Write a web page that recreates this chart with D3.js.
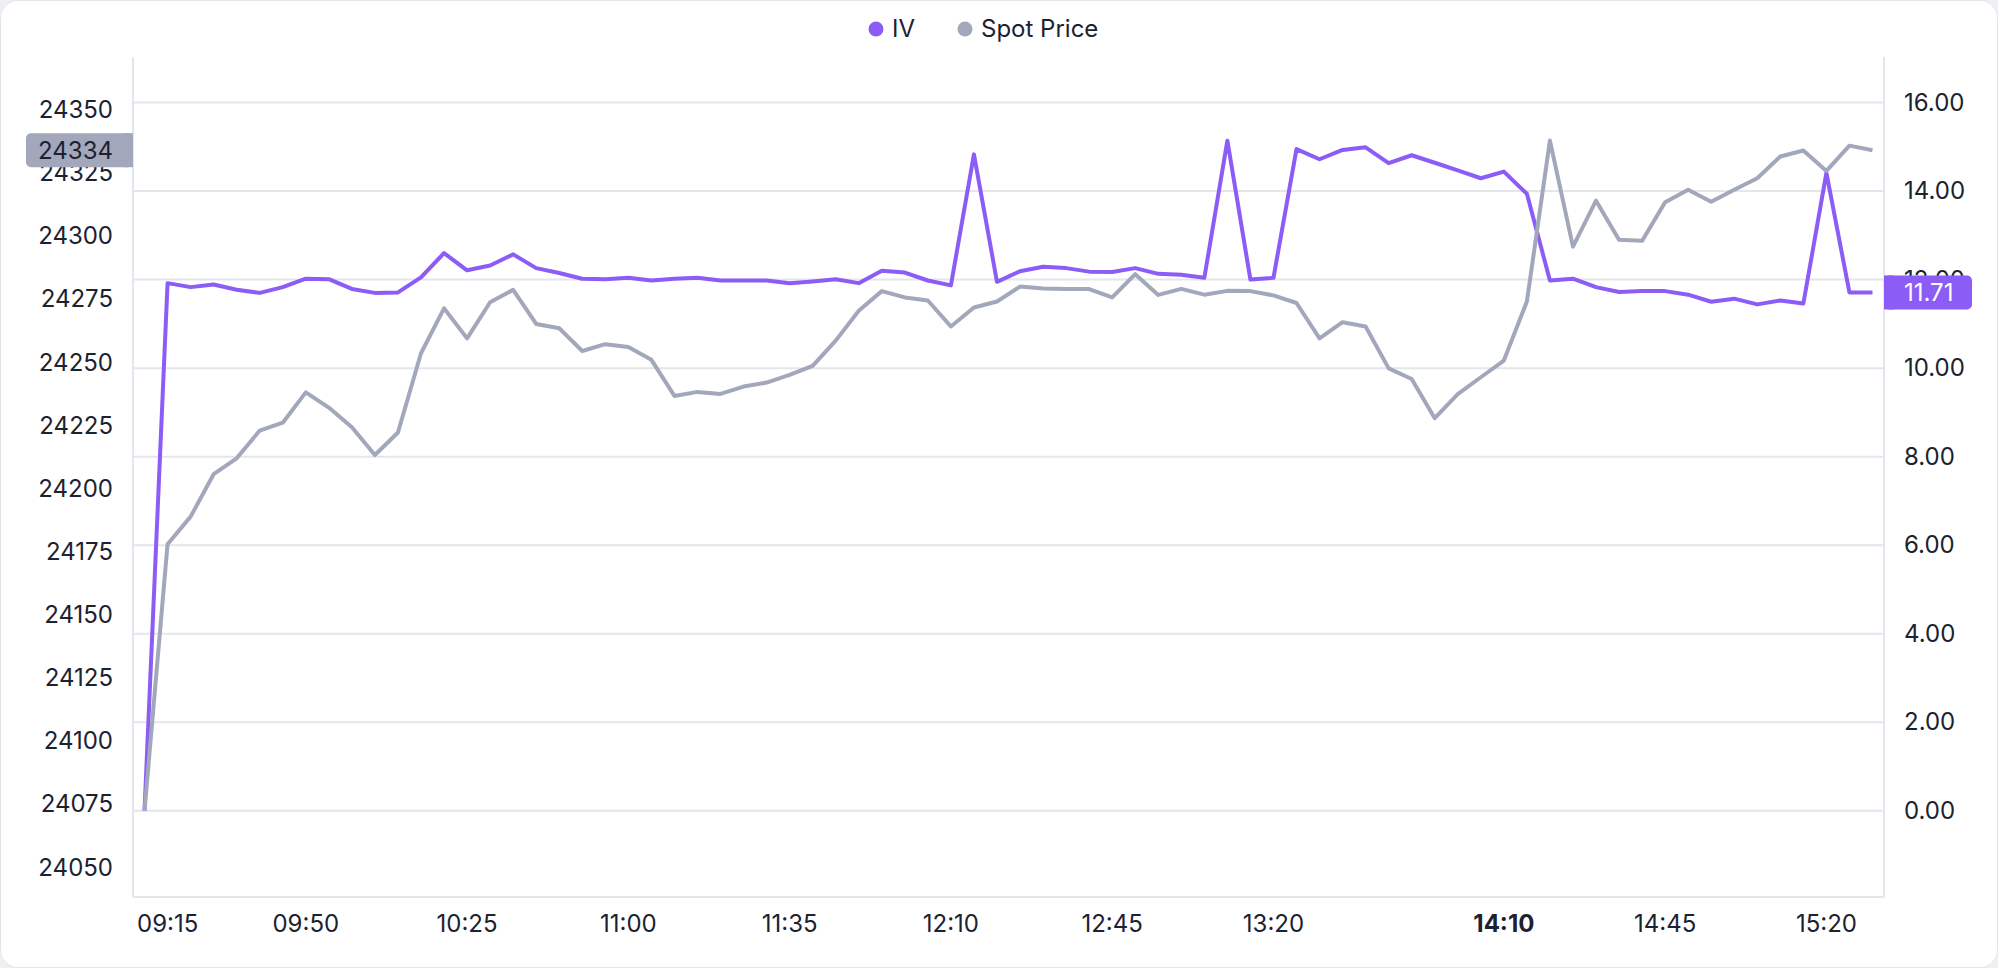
<!DOCTYPE html>
<html>
<head>
<meta charset="utf-8">
<script src="https://cdn.jsdelivr.net/npm/d3@7"></script>
<style>
  html, body { margin: 0; padding: 0; background: #eef0f3; }
  #card {
    position: absolute; left: 0; top: 0; width: 1998px; height: 968px;
    box-sizing: border-box; background: #fff;
    border: 1px solid #e3e5ea; border-radius: 18px;
  }
  #chart { position: absolute; left: 0; top: 0; font-family: Inter, "Noto Sans", sans-serif; }
</style>
</head>
<body>
<div id="card"></div>
<svg id="chart"></svg>
<script>
// 5-minute buckets, 09:15 -> 15:30
const times = [
  "09:15","09:20","09:25","09:30","09:35","09:40","09:45","09:50","09:55","10:00",
  "10:05","10:10","10:15","10:20","10:25","10:30","10:35","10:40","10:45","10:50",
  "10:55","11:00","11:05","11:10","11:15","11:20","11:25","11:30","11:35","11:40",
  "11:45","11:50","11:55","12:00","12:05","12:10","12:15","12:20","12:25","12:30",
  "12:35","12:40","12:45","12:50","12:55","13:00","13:05","13:10","13:15","13:20",
  "13:25","13:30","13:35","13:40","13:45","13:50","13:55","14:00","14:05","14:10",
  "14:15","14:20","14:25","14:30","14:35","14:40","14:45","14:50","14:55","15:00",
  "15:05","15:10","15:15","15:20","15:25","15:30"
]

const ivValues = [
  0.00, 11.92, 11.83, 11.89, 11.77, 11.70, 11.83, 12.02, 12.01, 11.79,
  11.70, 11.71, 12.05, 12.60, 12.21, 12.32, 12.57, 12.26, 12.15, 12.02,
  12.01, 12.04, 11.98, 12.02, 12.04, 11.98, 11.98, 11.98, 11.92, 11.96,
  12.01, 11.92, 12.20, 12.16, 11.98, 11.87, 14.83, 11.95, 12.19, 12.29,
  12.26, 12.18, 12.17, 12.26, 12.13, 12.11, 12.04, 15.14, 12.00, 12.04,
  14.95, 14.72, 14.93, 14.99, 14.63, 14.81, 14.64, 14.47, 14.29, 14.44,
  13.94, 11.98, 12.02, 11.83, 11.72, 11.74, 11.74, 11.66, 11.50, 11.57,
  11.44, 11.53, 11.46, 14.41, 11.71, 11.71
]

const spotValues = [
  24072.5, 24178.0, 24188.9, 24205.7, 24212.0, 24223.0, 24226.1, 24238.1, 24232.1, 24224.3,
  24213.3, 24222.2, 24253.6, 24271.4, 24259.5, 24273.8, 24278.7, 24265.2, 24263.5, 24254.5,
  24257.2, 24256.1, 24251.0, 24236.7, 24238.3, 24237.5, 24240.4, 24242.0, 24245.0, 24248.6,
  24258.6, 24270.4, 24278.2, 24275.7, 24274.5, 24264.2, 24271.7, 24274.1, 24280.0, 24279.2,
  24279.0, 24279.0, 24275.7, 24284.9, 24276.7, 24279.1, 24276.8, 24278.3, 24278.2, 24276.5,
  24273.5, 24259.5, 24265.9, 24264.2, 24247.6, 24243.4, 24227.9, 24237.4, 24244.1, 24250.7,
  24274.1, 24337.8, 24295.8, 24314.0, 24298.5, 24298.1, 24313.4, 24318.3, 24313.6, 24318.3,
  24322.9, 24331.5, 24333.9, 24325.8, 24335.8, 24334.0
]

const leftTicks = [24050, 24075, 24100, 24125, 24150, 24175, 24200, 24225, 24250, 24275, 24300, 24325, 24350]
const rightTicks = [0, 2, 4, 6, 8, 10, 12, 14, 16]
const xTickLabels = ["09:15","09:50","10:25","11:00","11:35","12:10","12:45","13:20","14:10","14:45","15:20"]
const boldTick = "14:10"

const ivColor = "#8b5cf6"
const spotColor = "#a2a7bb"
const textColor = "#1c2230"
const gridColor = "#e3e6ec"

const W = 1998, H = 968
const m = {t: 57, r: 114, b: 71, l: 133}
const plotR = W - m.r, plotB = H - m.b

const svg = d3.select("#chart").attr("width", W).attr("height", H)

const x = d3.scaleBand().domain(times).range([m.l, plotR]).padding(0)
const cx = d => x(d) + x.bandwidth() / 2

const yR = d3.scaleLinear().domain([-1.95, 17.03]).range([plotB, m.t])
const yL = d3.scaleLinear().domain([24038.3, 24370.9]).range([plotB, m.t])

// grid lines (right axis ticks)
svg.append("g")
  .selectAll("line")
  .data(rightTicks)
  .join("line")
  .attr("x1", m.l).attr("x2", plotR)
  .attr("y1", d => yR(d)).attr("y2", d => yR(d))
  .attr("stroke", gridColor).attr("stroke-width", 2)

// axis frame lines
svg.append("line").attr("x1", m.l).attr("x2", m.l).attr("y1", m.t).attr("y2", plotB)
  .attr("stroke", gridColor).attr("stroke-width", 2)
svg.append("line").attr("x1", plotR).attr("x2", plotR).attr("y1", m.t).attr("y2", plotB)
  .attr("stroke", gridColor).attr("stroke-width", 2)
svg.append("line").attr("x1", m.l).attr("x2", plotR).attr("y1", plotB).attr("y2", plotB)
  .attr("stroke", gridColor).attr("stroke-width", 2)

// left axis labels
const leftAxis = svg.append("g")
  .attr("transform", "translate(" + m.l + ",0)")
  .call(d3.axisLeft(yL).tickValues(leftTicks).tickSize(0).tickPadding(20).tickFormat(d3.format("d")))
leftAxis.select(".domain").remove()
leftAxis.selectAll("text")
  .attr("fill", textColor).style("font-size", "24px").style("font-family", "Inter, sans-serif")

// right axis labels
const rightAxis = svg.append("g")
  .attr("transform", "translate(" + plotR + ",0)")
  .call(d3.axisRight(yR).tickValues(rightTicks).tickSize(0).tickPadding(20).tickFormat(d3.format(".2f")))
rightAxis.select(".domain").remove()
rightAxis.selectAll("text")
  .attr("fill", textColor).style("font-size", "24px").style("font-family", "Inter, sans-serif")

// x axis labels
const xAxis = svg.append("g")
  .attr("transform", "translate(0," + plotB + ")")
  .call(d3.axisBottom(x).tickValues(xTickLabels).tickSize(0).tickPadding(18))
xAxis.select(".domain").remove()
xAxis.selectAll("text")
  .attr("fill", textColor).style("font-size", "24px").style("font-family", "Inter, sans-serif")
  .style("font-weight", d => d === boldTick ? 700 : 400)
// first label is pushed inside the plot edge
xAxis.selectAll(".tick").filter(d => d === times[0]).select("text")
  .attr("text-anchor", "start").attr("x", m.l + 4 - cx(times[0]))

// lines
const ivLine = d3.line().x((d, i) => cx(times[i])).y(d => yR(d))
const spotLine = d3.line().x((d, i) => cx(times[i])).y(d => yL(d))

svg.append("path").datum(ivValues)
  .attr("d", ivLine).attr("fill", "none")
  .attr("stroke", ivColor).attr("stroke-width", 4).attr("stroke-linejoin", "round")

svg.append("path").datum(spotValues)
  .attr("d", spotLine).attr("fill", "none")
  .attr("stroke", spotColor).attr("stroke-width", 4).attr("stroke-linejoin", "round")

// last value badges
const lastSpot = spotValues[spotValues.length - 1]
const lastIv = ivValues[ivValues.length - 1]

const lb = svg.append("g")
lb.append("rect").attr("x", 26).attr("y", yL(lastSpot) - 17).attr("width", m.l - 26).attr("height", 34)
  .attr("rx", 5).attr("fill", spotColor)
lb.append("rect").attr("x", m.l - 10).attr("y", yL(lastSpot) - 17).attr("width", 10).attr("height", 34)
  .attr("fill", spotColor)
lb.append("text").attr("x", m.l - 20).attr("y", yL(lastSpot)).attr("dy", "0.35em")
  .attr("text-anchor", "end").attr("fill", textColor).style("font-size", "24px")
  .text(d3.format("d")(lastSpot))

const rb = svg.append("g")
rb.append("rect").attr("x", plotR).attr("y", yR(lastIv) - 17).attr("width", 88).attr("height", 34)
  .attr("rx", 5).attr("fill", ivColor)
rb.append("rect").attr("x", plotR).attr("y", yR(lastIv) - 17).attr("width", 10).attr("height", 34)
  .attr("fill", ivColor)
rb.append("text").attr("x", plotR + 20).attr("y", yR(lastIv)).attr("dy", "0.35em")
  .attr("fill", "#fff").style("font-size", "24px")
  .text(d3.format(".2f")(lastIv))

// legend
const legendItems = [
  {name: "IV", color: ivColor, x: 876},
  {name: "Spot Price", color: spotColor, x: 965}
]
const lg = svg.append("g").selectAll("g").data(legendItems).join("g")
  .attr("transform", d => "translate(" + d.x + ",29)")
lg.append("circle").attr("r", 7.5).attr("fill", d => d.color)
lg.append("text").attr("x", 16).attr("dy", "0.35em")
  .attr("fill", textColor).style("font-size", "24px")
  .text(d => d.name)
</script>
</body>
</html>
